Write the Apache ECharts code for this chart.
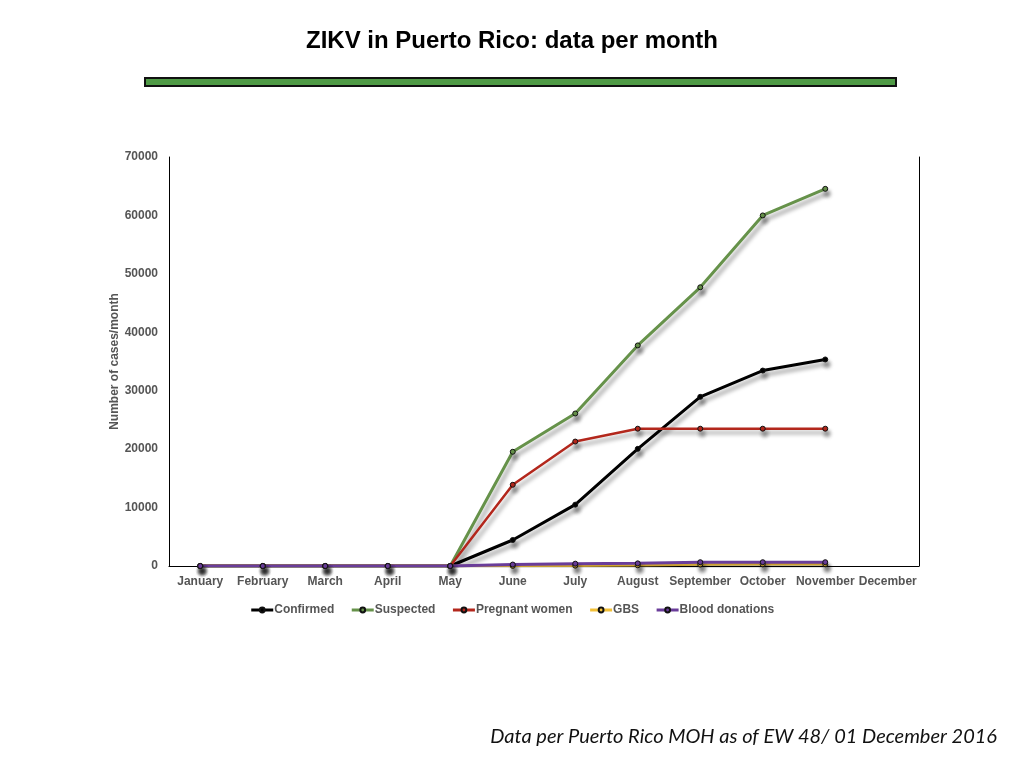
<!DOCTYPE html>
<html>
<head>
<meta charset="utf-8">
<title>ZIKV in Puerto Rico</title>
<script src="https://cdn.jsdelivr.net/npm/echarts@6/dist/echarts.min.js"></script>
<style>
  html, body { margin: 0; padding: 0; background: #fff; }
  #chart { width: 1024px; height: 768px; }
</style>
</head>
<body>
<div id="chart"></div>
<script>
// 数据
var months = ["January", "February", "March", "April", "May", "June",
  "July", "August", "September", "October", "November", "December"];
var confirmed = [0, 0, 0, 0, 0, 4450, 10500, 20050, 28950, 33450, 35350, null];
var suspected = [0, 0, 0, 0, 0, 19550, 26100, 37750, 47700, 60000, 64550, null];
var pregnant = [0, 0, 0, 0, 0, 13900, 21300, 23500, 23500, 23500, 23500, null];
var gbs = [0, 0, 0, 0, 0, 20, 60, 120, 250, 280, 300, null];
var blood = [0, 0, 0, 0, 0, 250, 400, 450, 650, 650, 650, null];
var yTicks = [0, 10000, 20000, 30000, 40000, 50000, 60000, 70000];

(function() {
  var myChart = echarts.init(document.getElementById("chart"));

  // 线条样式（带阴影）
  function makeSeries(name, data, color, width) {
    return {
      name: name,
      type: "line",
      data: data,
      symbol: "circle",
      symbolSize: 5,
      connectNulls: false,
      lineStyle: {
        color: color,
        width: width,
        shadowColor: "rgba(0,0,0,0.4)",
        shadowBlur: 4,
        shadowOffsetX: 3,
        shadowOffsetY: 4
      },
      itemStyle: {
        color: color,
        borderColor: "#111",
        borderWidth: 1,
        shadowColor: "rgba(0,0,0,0.45)",
        shadowBlur: 4,
        shadowOffsetX: 2,
        shadowOffsetY: 5
      },
      emphasis: { disabled: true }
    };
  }

  var labelStyle = {
    color: "#555",
    fontWeight: "bold",
    fontSize: 12,
    fontFamily: "Liberation Sans"
  };

  var option = {
    animation: false,
    textStyle: { fontFamily: "Liberation Sans" },
    title: {
      text: "ZIKV in Puerto Rico: data per month",
      left: "center",
      top: 24,
      textStyle: {
        color: "#000",
        fontSize: 24,
        fontWeight: "bold",
        fontFamily: "Liberation Sans"
      }
    },
    graphic: [
      {
        type: "rect",
        shape: { x: 145, y: 78, width: 751, height: 8 },
        style: { fill: "#4f9a45", stroke: "#111", lineWidth: 2 }
      },
      {
        type: "text",
        right: 27,
        top: 727,
        style: {
          text: "Data per Puerto Rico MOH as of EW 48/ 01 December 2016",
          fill: "#111",
          font: "italic 20px Lato"
        }
      }
    ],
    legend: {
      top: 599,
      left: "center",
      itemWidth: 22,
      itemHeight: 6,
      itemGap: 16,
      lineStyle: { width: 3 },
      textStyle: { color: "#555", fontWeight: "bold", fontSize: 12, padding: [0, 0, 0, -4] },
      data: ["Confirmed", "Suspected", "Pregnant women", "GBS", "Blood donations"]
    },
    grid: {
      left: 169,
      right: 105,
      top: 157,
      bottom: 202
    },
    xAxis: [
      {
        type: "category",
        data: months,
        boundaryGap: true,
        axisLine: { lineStyle: { color: "#ccc", width: 1 } },
        axisTick: { show: false },
        axisLabel: Object.assign({ margin: 10, interval: 0 }, labelStyle)
      },
      {
        type: "category",
        data: months,
        position: "top",
        axisLine: { lineStyle: { color: "#000", width: 1 } },
        axisTick: { show: false },
        axisLabel: { show: false }
      }
    ],
    yAxis: [
      {
        type: "value",
        min: yTicks[0],
        max: yTicks[yTicks.length - 1],
        interval: 10000,
        name: "Number of cases/month",
        nameLocation: "middle",
        nameGap: 48,
        nameMoveOverlap: false,
        nameTextStyle: { color: "#555", fontWeight: "bold", fontSize: 12 },
        axisLine: { show: true, lineStyle: { color: "#000", width: 1 } },
        axisTick: { show: false },
        splitLine: { show: false },
        axisLabel: Object.assign({
          margin: 11,
          formatter: function(v) { return String(v); }
        }, labelStyle)
      },
      {
        type: "value",
        min: yTicks[0],
        max: yTicks[yTicks.length - 1],
        interval: 10000,
        position: "right",
        axisLine: { show: true, lineStyle: { color: "#000", width: 1 } },
        axisTick: { show: false },
        splitLine: { show: false },
        axisLabel: { show: false }
      }
    ],
    series: [
      makeSeries("Confirmed", confirmed, "#000000", 3),
      makeSeries("Suspected", suspected, "#66924a", 3),
      makeSeries("Pregnant women", pregnant, "#b3271c", 2.5),
      makeSeries("GBS", gbs, "#f2c038", 2.5),
      makeSeries("Blood donations", blood, "#6a3d9a", 3)
    ]
  };

  myChart.setOption(option);
  window.addEventListener("resize", function() {
    myChart.resize();
  });
})();
</script>
</body>
</html>
